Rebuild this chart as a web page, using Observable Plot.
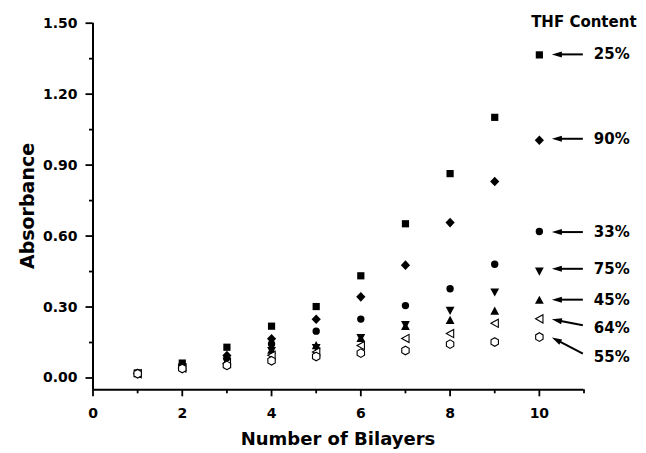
<!DOCTYPE html>
<html>
<head>
<meta charset="utf-8">
<script src="https://cdn.jsdelivr.net/npm/d3@7"></script>
<script src="https://cdn.jsdelivr.net/npm/@observablehq/plot@0.6"></script>
<style>
  html, body { margin: 0; padding: 0; background: #fff; }
  #chart svg { display: block; }
</style>
</head>
<body>
<div id="chart"></div>
<script>
// Number of deposited bilayers
const bilayers = [1, 2, 3, 4, 5, 6, 7, 8, 9, 10];

// Absorbance per THF content of the dipping solution
const thf25 = [0.021, 0.063, 0.130, 0.219, 0.302, 0.432, 0.652, 0.864, 1.102, 1.366];
const thf90 = [0.020, 0.055, 0.095, 0.166, 0.248, 0.343, 0.477, 0.657, 0.831, 1.005];
const thf33 = [0.020, 0.050, 0.082, 0.144, 0.198, 0.249, 0.306, 0.377, 0.481, 0.619];
const thf75 = [0.019, 0.046, 0.070, 0.115, 0.128, 0.170, 0.225, 0.285, 0.363, 0.451];
const thf45 = [0.019, 0.045, 0.072, 0.118, 0.137, 0.168, 0.219, 0.244, 0.283, 0.329];
const thf64 = [0.018, 0.042, 0.062, 0.096, 0.110, 0.137, 0.167, 0.188, 0.231, 0.250];
const thf55 = [0.018, 0.040, 0.053, 0.073, 0.091, 0.105, 0.116, 0.143, 0.152, 0.173];

const thfLabels = ["25%", "90%", "33%", "75%", "45%", "64%", "55%"];
const legendTitle = "THF Content";

// Axis ticks
const xTicks = [0, 2, 4, 6, 8, 10];
const xMinorTicks = [1, 3, 5, 7, 9, 11];
const yTicks = [0, 0.3, 0.6, 0.9, 1.2, 1.5];
const yMinorTicks = [0.15, 0.45, 0.75, 1.05, 1.35];
const xDomain = [0, 11];
const yDomain = [-0.05, 1.5];

// ---- marker shapes (drawn around the origin, scaled by the dot radius) ----
function polygon(points) {
  return {
    draw(ctx, size) {
      const k = Math.sqrt(size / Math.PI) / 4;
      ctx.moveTo(points[0][0] * k, points[0][1] * k);
      for (let i = 1; i < points.length; ++i) ctx.lineTo(points[i][0] * k, points[i][1] * k);
      ctx.closePath();
    }
  };
}
const symSquare = polygon([[-3.6, -3.6], [3.6, -3.6], [3.6, 3.6], [-3.6, 3.6]]);
const symDiamond = polygon([[0, -4.8], [4.6, 0], [0, 4.8], [-4.6, 0]]);
const symCircle = {
  draw(ctx, size) {
    const r = 3.7 * Math.sqrt(size / Math.PI) / 4;
    ctx.moveTo(r, 0);
    ctx.arc(0, 0, r, 0, 2 * Math.PI);
  }
};
const symDown = polygon([[-4.4, -3.7], [4.4, -3.7], [0, 4.5]]);
const symUp = polygon([[-4.4, 3.7], [4.4, 3.7], [0, -4.5]]);
const symLeft = polygon([[-3.8, 0], [3.6, -4.1], [3.6, 4.1]]);
const symHex = polygon([[0, -4.3], [3.7, -2.15], [3.7, 2.15], [0, 4.3], [-3.7, 2.15], [-3.7, -2.15]]);

const series = [
  {label: thfLabels[0], values: thf25, symbol: symSquare, open: false},
  {label: thfLabels[1], values: thf90, symbol: symDiamond, open: false},
  {label: thfLabels[2], values: thf33, symbol: symCircle, open: false},
  {label: thfLabels[3], values: thf75, symbol: symDown, open: false},
  {label: thfLabels[4], values: thf45, symbol: symUp, open: false},
  {label: thfLabels[5], values: thf64, symbol: symLeft, open: true},
  {label: thfLabels[6], values: thf55, symbol: symHex, open: true}
];

// vertical pixel nudges that keep the callout labels apart
const calloutNudge = [0, -1, 1, -2, 0, 10, 20];

const FONT = "'DejaVu Sans', sans-serif";

// Axis titles, the legend heading and the arrow callouts at the last bilayer
function annotations(index, scales, values, dims) {
  const {width, height, marginLeft, marginRight, marginTop, marginBottom} = dims;
  const g = d3.create("svg:g")
    .attr("font-family", FONT)
    .attr("font-weight", "bold")
    .attr("fill", "black");

  g.append("text")
    .attr("transform", `translate(27,${(marginTop + height - marginBottom) / 2}) rotate(-90)`)
    .attr("text-anchor", "middle")
    .attr("dominant-baseline", "central")
    .attr("font-size", 19)
    .text("Absorbance");

  g.append("text")
    .attr("x", (marginLeft + width - marginRight) / 2)
    .attr("y", height - marginBottom + 49)
    .attr("text-anchor", "middle")
    .attr("dominant-baseline", "central")
    .attr("font-size", 18)
    .text("Number of Bilayers");

  const x10 = scales.x(bilayers[bilayers.length - 1]);

  g.append("text")
    .attr("x", x10 + 45)
    .attr("y", marginTop - 1)
    .attr("text-anchor", "middle")
    .attr("dominant-baseline", "central")
    .attr("font-size", 15)
    .text(legendTitle);

  series.forEach((s, i) => {
    const my = scales.y(s.values[s.values.length - 1]);
    const nudge = calloutNudge[i];
    const ly = my + nudge;
    const sloped = Math.abs(nudge) > 4;
    const headX = x10 + 13, tailX = x10 + 44;
    const headY = sloped ? my + 1 : ly;
    const tailY = sloped ? ly - 3 : ly;
    const ang = Math.atan2(headY - tailY, headX - tailX);
    const L = 10, W = 3;
    const bx = headX - L * Math.cos(ang), by = headY - L * Math.sin(ang);
    const px = -Math.sin(ang) * W, py = Math.cos(ang) * W;
    g.append("line")
      .attr("x1", tailX).attr("y1", tailY)
      .attr("x2", bx + Math.cos(ang)).attr("y2", by + Math.sin(ang))
      .attr("stroke", "black").attr("stroke-width", 2);
    g.append("path")
      .attr("d", `M${headX},${headY}L${bx + px},${by + py}L${bx - px},${by - py}Z`)
      .attr("fill", "black");
    g.append("text")
      .attr("x", x10 + 55)
      .attr("y", ly)
      .attr("text-anchor", "start")
      .attr("dominant-baseline", "central")
      .attr("font-size", 15)
      .text(s.label);
  });
  return g.node();
}

const dots = series.map((s) =>
  Plot.dot(bilayers, {
    x: (d) => d,
    y: (d, i) => s.values[i],
    symbol: s.symbol,
    r: 4,
    fill: s.open ? "white" : "black",
    stroke: s.open ? "black" : "none",
    strokeWidth: s.open ? 1.1 : 0
  })
);

const chart = Plot.plot({
  width: 646,
  height: 453,
  marginLeft: 92.5,
  marginRight: 62.5,
  marginTop: 22.7,
  marginBottom: 63.7,
  x: {domain: xDomain},
  y: {domain: yDomain},
  style: {fontFamily: FONT, fontWeight: "bold", color: "black", background: "white", overflow: "visible"},
  marks: [
    Plot.axisX(xTicks, {tickSize: 7, tickPadding: 11, fontSize: 14, fontWeight: "bold", strokeWidth: 1.8, label: null}),
    Plot.axisX(xMinorTicks, {tickSize: 4, tickFormat: () => "", strokeWidth: 1.8, label: null}),
    Plot.axisY(yTicks, {tickSize: 7, tickPadding: 8.5, fontSize: 14, fontWeight: "bold", tickFormat: d3.format(".2f"), strokeWidth: 1.8, label: null}),
    Plot.axisY(yMinorTicks, {tickSize: 3.5, tickFormat: () => "", strokeWidth: 1.8, label: null}),
    Plot.ruleX([xDomain[0]], {strokeWidth: 2}),
    Plot.ruleY([yDomain[0]], {strokeWidth: 2}),
    ...dots,
    annotations
  ]
});

document.getElementById("chart").append(chart);
</script>
</body>
</html>
